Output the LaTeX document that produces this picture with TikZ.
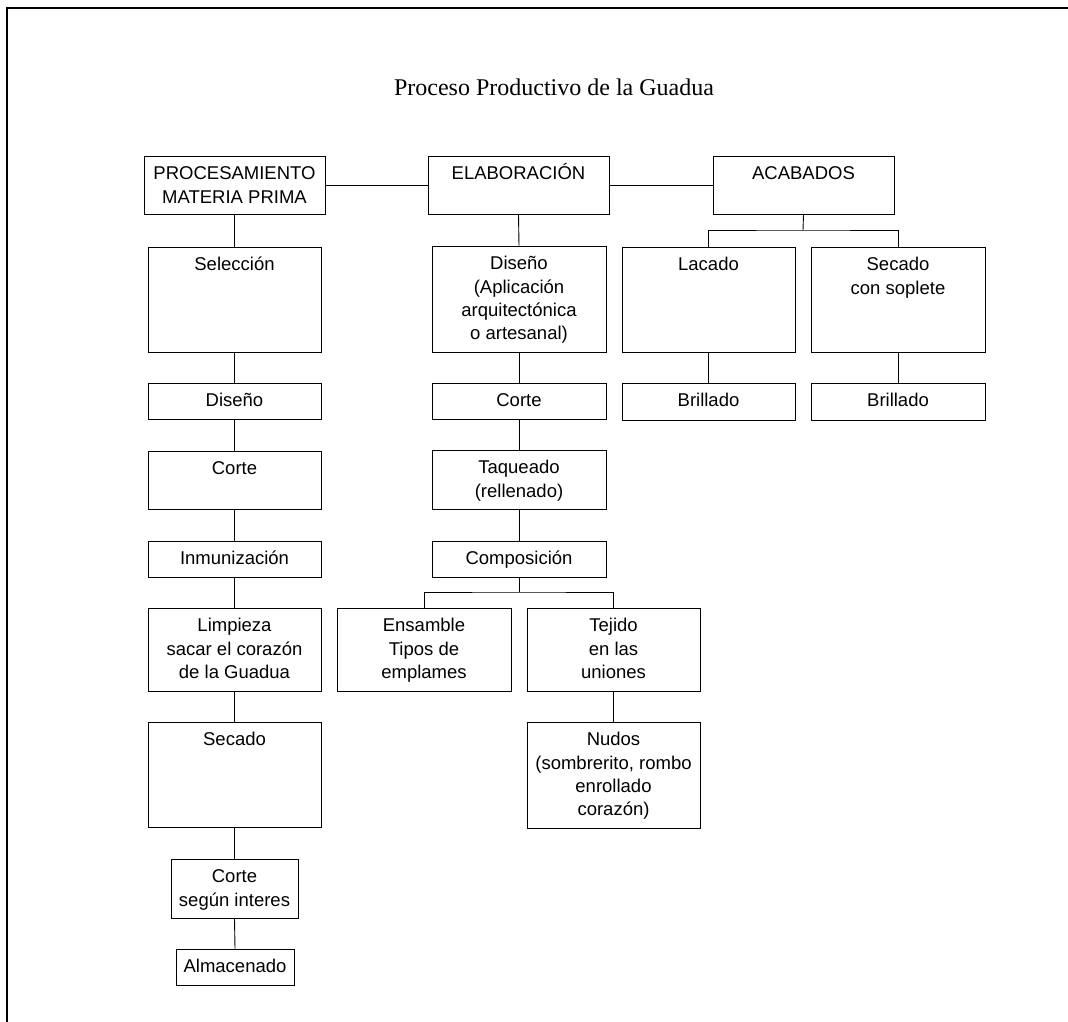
\documentclass[tikz,border=0pt]{standalone}
\usepackage{fontspec}
\setmainfont{Liberation Sans}
\newfontfamily\titlefont{Liberation Serif}
\begin{document}
\begin{tikzpicture}[x=1pt,y=1pt,
  box/.style={draw=black, line width=0.9pt, rectangle, inner sep=0pt},
  txt/.style={inner sep=0pt, font=\fontsize{18.5}{23.3}\selectfont},
  conn/.style={draw=black, line width=0.9pt},
  frame/.style={draw=black, line width=2pt}]
\newcommand\mybox[6]{%
  \node[box, minimum width={#4-#2}, minimum height={#5-#3}] (#1) at ({(#2+#4)/2},{-(#3+#5)/2}) {};
  \node[txt, anchor=base] (#1-t) at ({(#2+#4)/2},{-#3-23.8}) {\begin{tabular}[t]{@{}c@{}}#6\end{tabular}};
}
\useasboundingbox (0,0) rectangle (1068,-1022);
\draw[frame] (7,-1030) -- (7,-8.3) -- (1075,-8.3);
\node[anchor=base, inner sep=0pt] (title) at (554,-96) {\titlefont\fontsize{24}{28}\selectfont Proceso Productivo de la Guadua};

\mybox{proc}{144}{156}{325}{214}{PROCESAMIENTO\\MATERIA PRIMA}
\mybox{elab}{428}{156}{609}{214}{ELABORACIÓN}
\mybox{acab}{713}{156}{894}{214}{ACABADOS}

\mybox{sel}{148}{247}{321}{352}{Selección}
\mybox{disA}{148}{383}{321}{419}{Diseño}
\mybox{corA}{148}{451}{321}{509}{Corte}
\mybox{inm}{148}{541}{321}{577}{Inmunización}
\mybox{lim}{148}{608}{321}{691}{Limpieza\\sacar el corazón\\de la Guadua}
\mybox{sec}{148}{722}{321}{827}{Secado}
\mybox{csi}{171}{859}{298}{918}{Corte\\según interes}
\mybox{alm}{176}{949}{294}{985}{Almacenado}

\mybox{disB}{432}{246}{606}{352}{Diseño\\(Aplicación\\arquitectónica\\o artesanal)}
\mybox{corB}{432}{383}{606}{419}{Corte}
\mybox{taq}{432}{450}{606}{509}{Taqueado\\(rellenado)}
\mybox{comp}{432}{541}{606}{577}{Composición}
\mybox{ens}{337}{608}{511}{691}{Ensamble\\Tipos de\\emplames}
\mybox{tej}{527}{608}{700}{691}{Tejido\\en las\\uniones}
\mybox{nud}{527}{722}{700}{828}{Nudos\\(sombrerito, rombo\\enrollado\\corazón)}

\mybox{lac}{622}{247}{795}{352}{Lacado}
\mybox{sol}{811}{247}{985}{352}{Secado\\con soplete}
\mybox{briA}{622}{383}{795}{420}{Brillado}
\mybox{briB}{811}{383}{985}{420}{Brillado}

\coordinate (jc) at (519,-592);
\coordinate (ja) at (803,-230);

\draw[conn] (proc) -- (elab);
\draw[conn] (elab) -- (acab);
\draw[conn] (proc.south) -- (sel.north);
\draw[conn] (sel.south) -- (disA.north);
\draw[conn] (disA.south) -- (corA.north);
\draw[conn] (corA.south) -- (inm.north);
\draw[conn] (inm.south) -- (lim.north);
\draw[conn] (lim.south) -- (sec.north);
\draw[conn] (sec.south) -- (csi.north);
\draw[conn] (csi.south) -- (alm.north);

\draw[conn] (elab.south) -- (disB.north);
\draw[conn] (disB.south) -- (corB.north);
\draw[conn] (corB.south) -- (taq.north);
\draw[conn] (taq.south) -- (comp.north);
\draw[conn] (comp.south) -- (jc);
\draw[conn] (ens.north) |- (jc) -| (tej.north);
\draw[conn] (tej.south) -- (nud.north);

\draw[conn] (acab.south) -- (ja);
\draw[conn] (lac.north) |- (ja) -| (sol.north);
\draw[conn] (lac.south) -- (briA.north);
\draw[conn] (sol.south) -- (briB.north);
\end{tikzpicture}
\end{document}
